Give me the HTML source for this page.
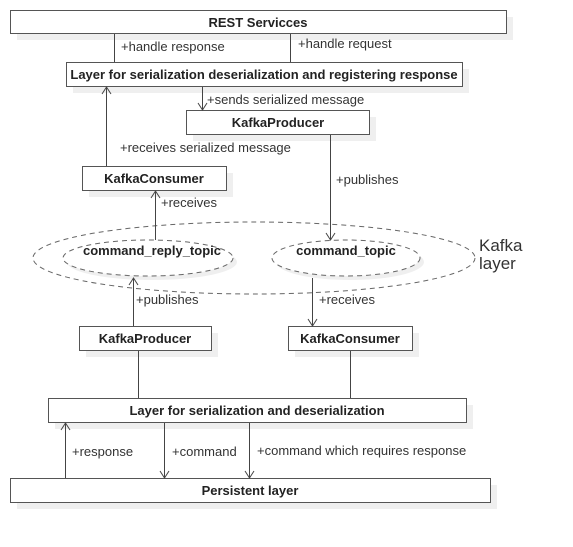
<!DOCTYPE html>
<html><head><style>body{margin:0;background:#fff}</style></head><body>
<svg width="573" height="542" xmlns="http://www.w3.org/2000/svg" font-family="Liberation Sans, sans-serif" font-size="13">
<g fill="#efefef">
<rect x="17" y="17" width="496" height="23"/><rect x="73" y="69" width="396" height="24"/>
<rect x="193" y="117" width="183" height="24"/><rect x="89" y="173" width="144" height="24"/>
<rect x="86" y="333" width="132" height="24"/><rect x="295" y="333" width="124" height="24"/>
<rect x="55" y="405" width="418" height="24"/><rect x="17" y="485" width="480" height="24"/>
<ellipse cx="152" cy="262" rx="85" ry="18"/><ellipse cx="350" cy="262" rx="74" ry="18"/>
</g>
<g fill="#fff" stroke="#555" stroke-width="1">
<rect x="10.5" y="10.5" width="496" height="23"/><rect x="66.5" y="62.5" width="396" height="24"/>
<rect x="186.5" y="110.5" width="183" height="24"/><rect x="82.5" y="166.5" width="144" height="24"/>
<rect x="79.5" y="326.5" width="132" height="24"/><rect x="288.5" y="326.5" width="124" height="24"/>
<rect x="48.5" y="398.5" width="418" height="24"/><rect x="10.5" y="478.5" width="480" height="24"/>
</g>
<g fill="none" stroke="#666" stroke-dasharray="5,4">
<ellipse cx="254" cy="258" rx="221" ry="36"/>
<ellipse cx="148" cy="258" rx="85" ry="18" fill="#fff"/>
<ellipse cx="346" cy="258" rx="74" ry="18" fill="#fff"/>
</g>
<g stroke="#444" fill="none">
<path d="M114.5 34V62M290.5 34V62M202.5 87V110M106.5 166V87M155.5 240V191M330.5 135V240M133.5 326V278M312.5 278V326M138.5 351V398M350.5 351V398M65.5 478V423M164.5 423V478M249.5 423V478"/>
<path d="M198 103L202.5 110L207 103M102 94L106.5 87L111 94M151 198L155.5 191L160 198M326 233L330.5 240L335 233M129 285L133.5 278L138 285M308 319L312.5 326L317 319M61 430L65.5 423L70 430M160 471L164.5 478L169 471M245 471L249.5 478L254 471"/>
</g>
<g font-weight="bold" text-anchor="middle" fill="#222">
<text x="258" y="27">REST Servicces</text>
<text x="264" y="79">Layer for serialization deserialization and registering response</text>
<text x="278" y="127">KafkaProducer</text>
<text x="154" y="183">KafkaConsumer</text>
<text x="152" y="255">command_reply_topic</text>
<text x="346" y="255">command_topic</text>
<text x="145" y="343">KafkaProducer</text>
<text x="350" y="343">KafkaConsumer</text>
<text x="257" y="415">Layer for serialization and deserialization</text>
<text x="250" y="495">Persistent layer</text>
</g>
<g fill="#333">
<text x="121" y="51">+handle response</text><text x="298" y="48">+handle request</text>
<text x="207" y="104">+sends serialized message</text><text x="120" y="152">+receives serialized message</text>
<text x="336" y="184">+publishes</text><text x="161" y="207">+receives</text>
<text x="136" y="304">+publishes</text><text x="319" y="304">+receives</text>
<text x="72" y="456">+response</text><text x="172" y="456">+command</text>
<text x="257" y="455">+command which requires response</text>
<text x="479" y="251" font-size="17">Kafka</text><text x="479" y="269" font-size="17">layer</text>
</g>
</svg>
</body></html>
